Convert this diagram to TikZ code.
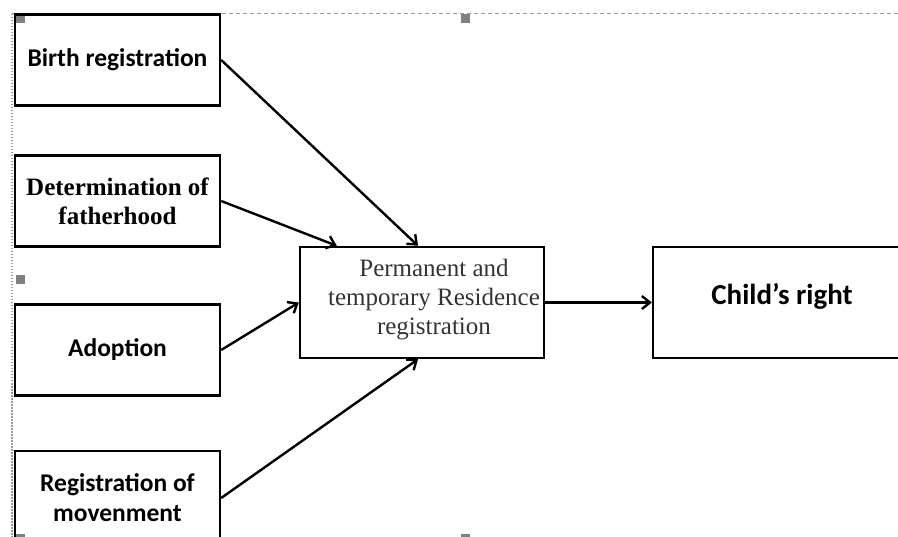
\documentclass[tikz,border=0pt]{standalone}
\usepackage{fontspec}
\setmainfont{Liberation Serif}
\newfontfamily\carlito{Carlito}
\usetikzlibrary{arrows,arrows.meta,positioning}

\begin{document}
\begin{tikzpicture}[x=1pt,y=-1pt,
        box/.style={draw, line width=2.4pt, inner sep=0pt, align=center},
        leftbox/.style={box, minimum width=205pt, minimum height=91pt},
        sanslabel/.style={font=\carlito\bfseries\fontsize{25.5}{30}\selectfont},
        seriflabel/.style={font=\fontsize{25}{29}\selectfont},
        link/.style={line width=2.4pt, -{Straight Barb[length=8pt,width=13pt]}}]
        \useasboundingbox (0,0) rectangle (898,537);
        % selection frame
        \draw[gray!80, dash pattern=on 4pt off 3pt, line width=1pt] (12,14) -- (898,14);
        \draw[gray!80, dash pattern=on 1.5pt off 1.5pt, line width=2pt] (12,14) -- (12,537);
        \foreach \hx/\hy in {20/19, 465/19, 20/280, 20/539, 465/539}
            \fill[gray] (\hx-4.5,\hy-4.5) rectangle (\hx+4.5,\hy+4.5);
        % boxes
        \node[leftbox, sanslabel] (birth) at (117.5,60) {Birth registration};
        \node[leftbox, font=\bfseries\fontsize{25}{29}\selectfont] (father) at (117.5,201) {Determination of\\fatherhood};
        \node[leftbox, sanslabel] (adopt) at (117.5,350) {Adoption};
        \node[leftbox, sanslabel, minimum height=94pt] (move) at (117.5,498) {Registration of\\movenment};
        \node[box, minimum width=244pt, minimum height=111pt,
              label={[seriflabel, text=black!80, align=center, xshift=12pt, yshift=3pt]center:Permanent and\\temporary Residence\\registration}] (resid) at (422,302.5) {};
        \node[box, minimum width=260pt, minimum height=111pt] (child) at (783,302.5) {};
        \node[sanslabel, font=\carlito\bfseries\fontsize{29}{34}\selectfont] (childtext) at (782,296) {Child’s right};
        % connectors
        \draw[link] (birth.east) -- ([xshift=-4pt]resid.north);
        \draw[link] (father.east) -- ([xshift=38pt]resid.north west);
        \draw[link] (adopt.east) -- (resid.west);
        \draw[link] (move.east) -- ([xshift=-4pt]resid.south);
        \draw[link] (resid.east) -- (child.west);
\end{tikzpicture}
\end{document}
